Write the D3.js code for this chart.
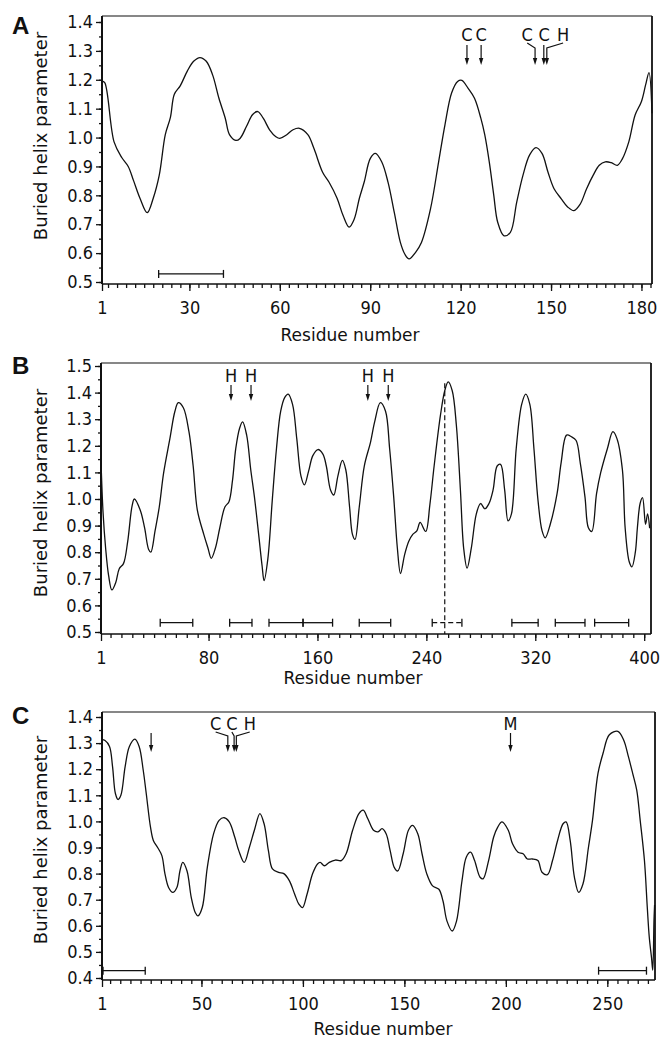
<!DOCTYPE html>
<html>
<head>
<meta charset="utf-8">
<script src="https://cdn.jsdelivr.net/npm/d3@7"></script>
<style>
body { margin: 0; background: #fff; }
</style>
</head>
<body>
<svg id="chart" width="662" height="1040"></svg>
<script>
// ---- panel A ----
const resA = [1, 1.9, 5, 7.6, 9.7, 11.5, 13.6, 16, 18, 20, 22, 23.7, 25, 27, 29.3, 31.4, 33.5, 35.6, 37.7, 39.8,
  41.9, 43.3, 45.4, 46.8, 49, 51, 52.7, 54.5, 56.6, 58.7, 60, 62.2, 64.4, 66.5, 69.3, 71.4, 74.2, 76.3, 79, 81,
  83, 84.7, 86.4, 88, 90, 91.7, 93.8, 95.9, 98, 100, 101.5, 102.9, 105, 107, 110, 112.7, 114.8, 117, 119, 120.4,
  122.5, 124.6, 126.7, 128, 129.5, 131, 132.3, 134.4, 136.5, 138.6, 140.7, 142.9, 145, 147, 149, 151, 153.4, 155.5, 157.6, 159.7,
  161.8, 164, 166, 168, 170, 172, 173.7, 175.8, 177.9, 180, 181.4, 182.5, 183.5];
const valA = [1.195, 1.19, 0.985, 0.93, 0.9, 0.85, 0.79, 0.74, 0.79, 0.87, 1.01, 1.07, 1.15, 1.18, 1.23, 1.264, 1.277, 1.264, 1.217, 1.136,
  1.067, 1.01, 0.99, 0.997, 1.04, 1.08, 1.09, 1.067, 1.027, 1.003, 0.997, 1.009, 1.027, 1.032, 1.01, 0.96, 0.88, 0.846, 0.79, 0.73,
  0.69, 0.718, 0.79, 0.846, 0.927, 0.945, 0.916, 0.846, 0.74, 0.637, 0.596, 0.58, 0.602, 0.637, 0.753, 0.916, 1.044, 1.154, 1.194, 1.198,
  1.17, 1.136, 1.067, 1.01, 0.916, 0.8, 0.707, 0.66, 0.672, 0.776, 0.87, 0.94, 0.965, 0.945, 0.88, 0.823, 0.788, 0.76, 0.747, 0.77,
  0.823, 0.87, 0.904, 0.916, 0.913, 0.904, 0.927, 0.985, 1.078, 1.125, 1.183, 1.225, 1.084];
const xTicksA = [1, 30, 60, 90, 120, 150, 180];
const yTicksA = [0.5, 0.6, 0.7, 0.8, 0.9, 1.0, 1.1, 1.2, 1.3, 1.4];
const barsA = [[19.8, 41.3]];
const barLevelA = 0.528;
const marksA = [
  { label: "C", lx: 122.1, ax: 122.1 },
  { label: "C", lx: 126.8, ax: 126.8 },
  { label: "C", lx: 142.1, ax: 144.7 },
  { label: "C", lx: 147.7, ax: 147.6 },
  { label: "H", lx: 154.0, ax: 148.6 }
];

// ---- panel B ----
const resB = [1, 2.5, 4.4, 6.6, 9, 11.9, 14.4, 17.5, 20.6, 23.7, 25.5, 29.9, 33, 36, 37.6, 40.7, 43.8, 47, 51.6, 55.3,
  57.8, 61.5, 65.6, 68.7, 71.8, 76.5, 79.6, 82, 85, 88.2, 92, 95, 97.6, 100, 102.8, 105, 108, 111, 113.7, 116.8,
  119.3, 120.8, 123.6, 126.8, 129.9, 133, 136, 138.5, 141.7, 144.8, 147.9, 150.4, 153.5, 156.6, 160.3, 164, 166.5, 169.6, 172, 175,
  178.3, 180.8, 183.6, 185.7, 187.6, 190.7, 194.4, 199, 202, 206.2, 210, 213, 216, 218.7, 221, 224, 227, 230, 233, 235.4,
  239.5, 242.6, 245.7, 250.4, 253.5, 256, 259, 262, 265, 267.4, 269.9, 273, 276.7, 279.8, 283, 286, 289, 292, 294.5, 297.5,
  300, 302.5, 306, 310, 313, 316, 319, 322, 325, 327.3, 331, 336, 339, 343, 346.6, 350, 353, 356.5, 359, 361.5,
  365, 368, 373, 377, 380, 384, 386, 389, 391, 393.5, 395, 397, 398.8, 401, 402.5, 404];
const valB = [1.14, 0.95, 0.815, 0.712, 0.658, 0.687, 0.738, 0.757, 0.84, 0.97, 1.0, 0.957, 0.892, 0.81, 0.8, 0.88, 0.97, 1.098, 1.227, 1.33,
  1.362, 1.343, 1.253, 1.124, 0.957, 0.867, 0.815, 0.777, 0.815, 0.89, 0.97, 0.99, 1.07, 1.19, 1.266, 1.29, 1.24, 1.11, 1.008, 0.867,
  0.75, 0.693, 0.777, 0.995, 1.19, 1.33, 1.382, 1.394, 1.356, 1.227, 1.086, 1.053, 1.105, 1.163, 1.186, 1.169, 1.124, 1.034, 1.015, 1.086,
  1.145, 1.11, 0.97, 0.867, 0.848, 0.97, 1.124, 1.214, 1.29, 1.362, 1.33, 1.19, 1.008, 0.815, 0.72, 0.79, 0.84, 0.867, 0.88, 0.912,
  0.878, 0.98, 1.124, 1.317, 1.407, 1.44, 1.407, 1.279, 1.034, 0.815, 0.74, 0.815, 0.944, 0.983, 0.963, 0.983, 1.034, 1.124, 1.13, 1.034,
  0.918, 0.944, 1.19, 1.356, 1.394, 1.356, 1.19, 0.995, 0.88, 0.854, 0.905, 1.02, 1.137, 1.24, 1.234, 1.22, 1.137, 1.008, 0.892, 0.878,
  1.02, 1.098, 1.19, 1.253, 1.227, 1.11, 0.892, 0.764, 0.745, 0.8, 0.892, 0.983, 1.005, 0.905, 0.944, 0.89];
const xTicksB = [1, 80, 160, 240, 320, 400];
const yTicksB = [0.5, 0.6, 0.7, 0.8, 0.9, 1.0, 1.1, 1.2, 1.3, 1.4, 1.5];
const barsB = [[44.5, 68.4], [95.5, 111.9], [124.4, 149.4], [149.4, 171.1], [190.7, 213.8],
  [302.8, 322.1], [334.7, 356.5], [363.6, 388.6]];
const dashedBarsB = [[244.3, 266.1]];
const barLevelB = 0.535;
const dropLineB = { res: 253.5, top: 1.435 };
const marksB = [
  { label: "H", lx: 96.5, ax: 96.5 },
  { label: "H", lx: 111.2, ax: 111.2 },
  { label: "H", lx: 197, ax: 197 },
  { label: "H", lx: 212, ax: 212 }
];

// ---- panel C ----
const resC = [1, 2.5, 4.7, 6.2, 7.6, 8.9, 10.3, 12.4, 14.5, 17.2, 19.3, 21.3, 22.8, 24.9, 26.3, 28.4, 30.5, 32, 33.8, 35.9,
  37.9, 39.4, 40.8, 42.9, 45, 47, 48.3, 50.4, 52.9, 56, 58.7, 61.2, 63.7, 66.4, 68.4, 71.1, 73.6, 76.3, 78.8, 80.9,
  83, 85, 88, 90.6, 93.3, 96, 98, 99.8, 102, 104.8, 107.2, 108.5, 110.6, 113, 116, 118.9, 121.3, 124.5, 127.6, 129.7,
  132, 134.8, 137, 139, 141, 143, 145, 146.7, 149.4, 152, 154, 156.6, 158.7, 161, 163.9, 167, 169, 171, 173.6, 175.7,
  178.4, 180.5, 182.6, 184.6, 187.3, 188.8, 191.5, 194, 196, 198.1, 201.2, 203.3, 206, 208.5, 210.6, 213, 215.8, 217.8, 220.5, 223,
  225.5, 228.2, 229.7, 231.7, 233.8, 235.9, 238, 240.7, 242.7, 245.4, 247.9, 251, 255.2, 258, 260.4, 262.5, 264.5, 266.2, 268.3, 269.7,
  270.7, 271.8, 272.4, 273, 273.3];
const valC = [1.313, 1.31, 1.287, 1.21, 1.107, 1.084, 1.1, 1.21, 1.287, 1.315, 1.287, 1.197, 1.107, 0.978, 0.927, 0.9, 0.869, 0.8, 0.747, 0.728,
  0.747, 0.81, 0.843, 0.81, 0.708, 0.65, 0.638, 0.67, 0.824, 0.953, 1.004, 1.014, 0.998, 0.94, 0.888, 0.843, 0.9, 0.972, 1.03, 0.99,
  0.888, 0.818, 0.805, 0.8, 0.773, 0.72, 0.683, 0.67, 0.72, 0.8, 0.837, 0.843, 0.83, 0.843, 0.852, 0.85, 0.876, 0.966, 1.03, 1.043,
  1.01, 0.966, 0.96, 0.972, 0.953, 0.888, 0.824, 0.81, 0.876, 0.966, 0.985, 0.953, 0.876, 0.8, 0.753, 0.74, 0.696, 0.618, 0.58, 0.618,
  0.773, 0.863, 0.882, 0.85, 0.786, 0.78, 0.85, 0.94, 0.978, 0.998, 0.966, 0.914, 0.882, 0.876, 0.856, 0.856, 0.85, 0.805, 0.796, 0.85,
  0.927, 0.991, 0.998, 0.927, 0.786, 0.728, 0.76, 0.9, 1.004, 1.184, 1.261, 1.332, 1.345, 1.313, 1.248, 1.184, 1.12, 1.004, 0.85, 0.67,
  0.554, 0.477, 0.43, 0.62, 0.68];
const xTicksC = [1, 50, 100, 150, 200, 250];
const yTicksC = [0.4, 0.5, 0.6, 0.7, 0.8, 0.9, 1.0, 1.1, 1.2, 1.3, 1.4];
const barsC = [[1.5, 22.3], [245.7, 269.3]];
const barLevelC = 0.428;
const marksC = [
  { label: "", lx: 25.2, ax: 25.2 },
  { label: "C", lx: 57, ax: 63 },
  { label: "C", lx: 65, ax: 66.1 },
  { label: "H", lx: 73.8, ax: 67.2 },
  { label: "M", lx: 202.3, ax: 202.3 }
];

const tickFont = "'DejaVu Sans Condensed', 'DejaVu Sans', sans-serif";
const textFont = "'DejaVu Sans', sans-serif";
const ink = "#111";

const svg = d3.select("#chart");

const panels = [
  { name: "A", res: resA, val: valA, xTicks: xTicksA, xStep: 3, yTicks: yTicksA,
    bars: barsA, dashedBars: [], barLevel: barLevelA, marks: marksA,
    xDomain: [1, 183.5], yDomain: [0.5, 1.4],
    left: 102, right: 652, top: 16, yTop: 22, yBottom: 282, axisY: 284,
    labelCY: 136, titleX: 350, titleY: 341, letterY: 34,
    markText: 41, markTop: 45, markTip: 65 },
  { name: "B", res: resB, val: valB, xTicks: xTicksB, xStep: 8, yTicks: yTicksB,
    bars: barsB, dashedBars: dashedBarsB, barLevel: barLevelB, marks: marksB, drop: dropLineB,
    xDomain: [1, 405], yDomain: [0.5, 1.5],
    left: 101, right: 651, top: 363, yTop: 366, yBottom: 632, axisY: 634,
    labelCY: 493, titleX: 353, titleY: 684, letterY: 374,
    markText: 382, markTop: 385, markTip: 401 },
  { name: "C", res: resC, val: valC, xTicks: xTicksC, xStep: 5, yTicks: yTicksC,
    bars: barsC, dashedBars: [], barLevel: barLevelC, marks: marksC,
    xDomain: [1, 273.5], yDomain: [0.4, 1.4],
    left: 102, right: 655, top: 712, yTop: 717, yBottom: 978, axisY: 980,
    labelCY: 840, titleX: 383, titleY: 1035, letterY: 724,
    markText: 730, markTop: 733, markTip: 752 }
];

function drawPanel(p) {
  const g = svg.append("g").attr("class", "panel-" + p.name);
  const x = d3.scaleLinear().domain(p.xDomain).range([p.left, p.right]);
  const y = d3.scaleLinear().domain(p.yDomain).range([p.yBottom, p.yTop]);

  // frame
  g.append("line").attr("x1", p.left).attr("x2", p.right).attr("y1", p.top).attr("y2", p.top)
    .attr("stroke", ink).attr("stroke-width", 1.1);
  g.append("line").attr("x1", p.right).attr("x2", p.right).attr("y1", p.top).attr("y2", p.axisY)
    .attr("stroke", ink).attr("stroke-width", 1.8);
  g.append("line").attr("x1", p.left).attr("x2", p.left).attr("y1", p.top).attr("y2", p.axisY)
    .attr("stroke", ink).attr("stroke-width", 2);
  g.append("line").attr("x1", p.left).attr("x2", p.right).attr("y1", p.axisY).attr("y2", p.axisY)
    .attr("stroke", ink).attr("stroke-width", 1.6);

  // y axis
  const yMinor = d3.range(p.yDomain[0] * 100, p.yDomain[1] * 100 + 1, 5).map(v => v / 100);
  const yMinorAxis = g.append("g").attr("transform", `translate(${p.left},0)`)
    .call(d3.axisLeft(y).tickValues(yMinor).tickFormat("").tickSize(3));
  const yAxis = g.append("g").attr("transform", `translate(${p.left},0)`)
    .call(d3.axisLeft(y).tickValues(p.yTicks).tickFormat(d3.format(".1f")).tickSize(6).tickPadding(3));

  // x axis
  const xMinor = d3.range(p.xStep, p.xDomain[1], p.xStep);
  const xMinorAxis = g.append("g").attr("transform", `translate(0,${p.axisY})`)
    .call(d3.axisBottom(x).tickValues(xMinor).tickFormat("").tickSize(4));
  const xAxis = g.append("g").attr("transform", `translate(0,${p.axisY})`)
    .call(d3.axisBottom(x).tickValues(p.xTicks).tickFormat(d3.format("d")).tickSize(7));
  xAxis.selectAll("text").attr("y", 30).attr("dy", 0);

  [yMinorAxis, yAxis, xMinorAxis, xAxis].forEach(a => {
    a.select(".domain").remove();
    a.selectAll("line").attr("stroke", ink).attr("stroke-width", 1.3);
    a.selectAll("text").attr("fill", ink).style("font-family", tickFont).style("font-size", "18px");
  });

  // profile curve
  const pts = p.res.map((r, i) => [r, p.val[i]]);
  const line = d3.line().x(d => x(d[0])).y(d => y(d[1])).curve(d3.curveCatmullRom.alpha(0.5));
  g.append("path").datum(pts).attr("d", line)
    .attr("fill", "none").attr("stroke", ink).attr("stroke-width", 1.3).attr("stroke-linejoin", "round");

  // segment bars along the bottom
  const barY = y(p.barLevel);
  const drawBar = (b, dashed) => {
    g.append("line").attr("x1", x(b[0])).attr("x2", x(b[1])).attr("y1", barY).attr("y2", barY)
      .attr("stroke", ink).attr("stroke-width", 1.3).attr("stroke-dasharray", dashed ? "5,3" : null);
    b.forEach(e => {
      g.append("line").attr("x1", x(e)).attr("x2", x(e)).attr("y1", barY - 4).attr("y2", barY + 4)
        .attr("stroke", ink).attr("stroke-width", 1.3);
    });
  };
  p.bars.forEach(b => drawBar(b, false));
  p.dashedBars.forEach(b => drawBar(b, true));

  if (p.drop) {
    g.append("line").attr("x1", x(p.drop.res)).attr("x2", x(p.drop.res))
      .attr("y1", y(p.drop.top)).attr("y2", p.axisY)
      .attr("stroke", ink).attr("stroke-width", 1.2).attr("stroke-dasharray", "5,3");
  }

  // residue markers with arrows
  p.marks.forEach(m => {
    const lx = x(m.lx), ax = x(m.ax);
    if (m.label) {
      g.append("text").attr("x", lx).attr("y", p.markText).attr("text-anchor", "middle")
        .attr("fill", ink).style("font-family", tickFont).style("font-size", "18px").text(m.label);
    }
    const path = Math.abs(lx - ax) < 0.5
      ? `M${ax},${p.markTop}L${ax},${p.markTip - 5}`
      : `M${lx},${p.markText + 2}L${ax},${p.markTop + 3}L${ax},${p.markTip - 5}`;
    g.append("path").attr("d", path).attr("fill", "none").attr("stroke", ink).attr("stroke-width", 1.2);
    g.append("path").attr("d", `M${ax - 2.2},${p.markTip - 7}L${ax + 2.2},${p.markTip - 7}L${ax},${p.markTip}Z`)
      .attr("fill", ink);
  });

  // titles
  g.append("text").attr("transform", `translate(47,${p.labelCY}) rotate(-90)`)
    .attr("text-anchor", "middle").attr("fill", ink)
    .style("font-family", textFont).style("font-size", "18px").text("Buried helix parameter");
  g.append("text").attr("x", p.titleX).attr("y", p.titleY).attr("text-anchor", "middle").attr("fill", ink)
    .style("font-family", textFont).style("font-size", "17px").text("Residue number");
  g.append("text").attr("x", 12).attr("y", p.letterY).attr("fill", ink)
    .style("font-family", "'Liberation Sans', Arial, sans-serif").style("font-weight", "bold")
    .style("font-size", "24px").text(p.name);
}

panels.forEach(drawPanel);
</script>
</body>
</html>
